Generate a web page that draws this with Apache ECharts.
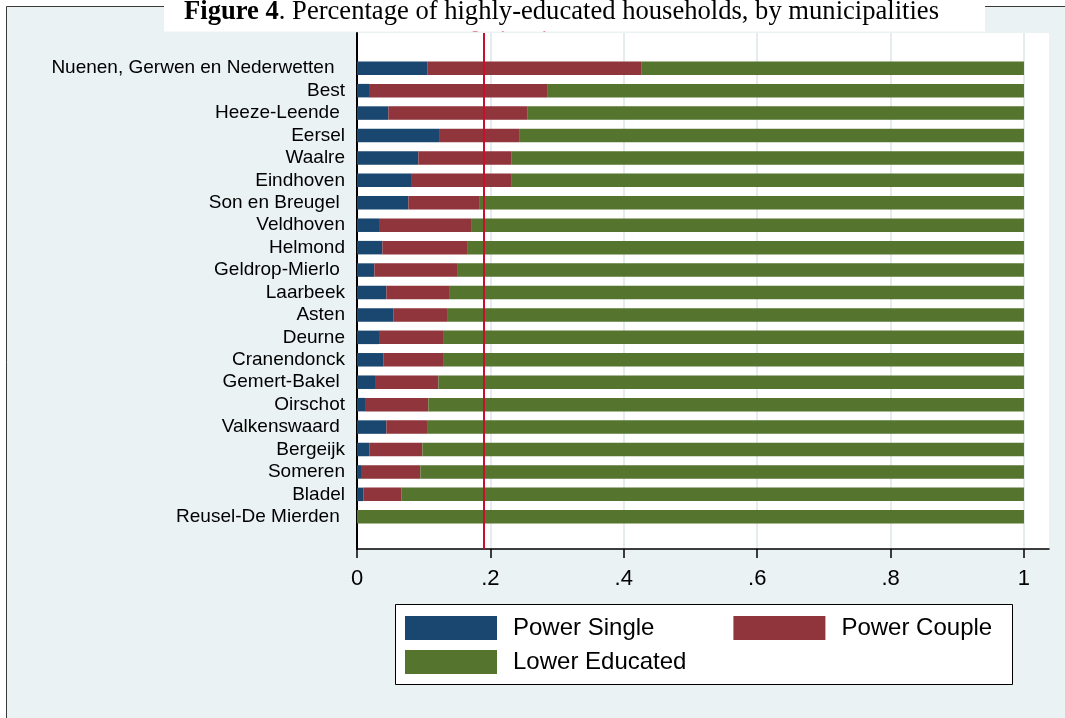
<!DOCTYPE html>
<html>
<head>
<meta charset="utf-8">
<script src="https://cdn.jsdelivr.net/npm/echarts@6/dist/echarts.min.js"></script>
<style>
  html, body { margin: 0; padding: 0; background: #ffffff; }
  #chart { width: 1065px; height: 718px; }
</style>
</head>
<body>
<div id="chart"></div>
<script>
// Municipalities, sorted by share of highly-educated households (top to bottom)
const municipalities = [
  'Nuenen, Gerwen en Nederwetten  ', 'Best', 'Heeze-Leende ', 'Eersel', 'Waalre',
  'Eindhoven', 'Son en Breugel ', 'Veldhoven', 'Helmond', 'Geldrop-Mierlo ',
  'Laarbeek', 'Asten', 'Deurne', 'Cranendonck', 'Gemert-Bakel ',
  'Oirschot', 'Valkenswaard ', 'Bergeijk', 'Someren', 'Bladel',
  'Reusel-De Mierden '
];

// Household shares (fractions of 1)
const powerSingle = [
  0.106, 0.018, 0.047, 0.123, 0.092, 0.081, 0.077, 0.033, 0.038, 0.026,
  0.044, 0.055, 0.033, 0.040, 0.027, 0.012, 0.044, 0.019, 0.006, 0.010, 0
];
const powerCouple = [
  0.320, 0.267, 0.209, 0.120, 0.140, 0.150, 0.106, 0.138, 0.127, 0.124,
  0.094, 0.080, 0.096, 0.089, 0.095, 0.095, 0.061, 0.079, 0.089, 0.057, 0
];
const lowerEducated = [
  0.574, 0.715, 0.744, 0.757, 0.768, 0.769, 0.817, 0.829, 0.835, 0.850,
  0.862, 0.865, 0.871, 0.871, 0.878, 0.893, 0.895, 0.902, 0.905, 0.933, 1
];

// Regional average share of highly-educated households
const averageShare = 0.192;
const averageLabel = 'Average (0.19)';

// X axis ticks and their labels
const xTicks = [0, 0.2, 0.4, 0.6, 0.8, 1];
const xTickLabels = ['0', '.2', '.4', '.6', '.8', '1'];

const seriesNames = ['Power Single', 'Power Couple', 'Lower Educated'];
const seriesColors = ['#1A476F', '#90353B', '#55752F'];

const SANS = '"Liberation Sans", Arial, Helvetica, sans-serif';
const SERIF = '"Liberation Serif", "Times New Roman", serif';

const chart = echarts.init(document.getElementById('chart'), null, { renderer: 'canvas' });

const plotLeft = 357, plotTop = 33, plotWidth = 692, plotBottom = 549;
const barsTop = 57, barsHeight = 471;
const xMax = 1.0375;

const legendText = {
  fontSize: 24, color: '#000', fontFamily: SANS, padding: [0, 0, 0, 11]
};

const option = {
  backgroundColor: '#ffffff',
  animation: false,
  graphic: [
    { // outer frame with light background
      type: 'rect', z: -10, silent: true,
      shape: { x: 6.5, y: 6.5, width: 1070, height: 730 },
      style: { fill: '#EAF2F3', stroke: '#3a3a3a', lineWidth: 1 }
    },
    { // legend box
      type: 'rect', z: 3, silent: true,
      shape: { x: 395.5, y: 604.5, width: 617, height: 80 },
      style: { fill: '#ffffff', stroke: '#000000', lineWidth: 1 }
    },
    { // title box
      type: 'rect', z: 20, silent: true,
      shape: { x: 164, y: 0, width: 821, height: 31.5 },
      style: { fill: '#ffffff' }
    },
    {
      type: 'text', z: 21, silent: true,
      x: 184, y: -1,
      style: {
        text: '{b|Figure 4}. Percentage of highly-educated households, by municipalities',
        font: '26.6px ' + SERIF,
        fill: '#000',
        rich: { b: { fontWeight: 'bold', fontSize: 26.6, fontFamily: SERIF } }
      }
    }
  ],
  legend: [
    {
      data: [seriesNames[0], seriesNames[1]],
      left: 405, top: 616, padding: 0,
      itemWidth: 92, itemHeight: 24, itemGap: 79,
      icon: 'rect', selectedMode: false,
      textStyle: legendText
    },
    {
      data: [seriesNames[2]],
      left: 405, top: 650, padding: 0,
      itemWidth: 92, itemHeight: 24,
      icon: 'rect', selectedMode: false,
      textStyle: legendText
    }
  ],
  grid: [
    { // full plot region: value axis, gridlines, average line
      left: plotLeft, top: plotTop, width: plotWidth, height: plotBottom - plotTop,
      show: true, backgroundColor: '#ffffff', borderWidth: 0
    },
    { // bars
      left: plotLeft, top: barsTop, width: plotWidth, height: barsHeight
    }
  ],
  xAxis: [
    {
      gridIndex: 0, type: 'value', min: 0, max: xMax, interval: 0.2,
      axisLine: { show: true, onZero: false, lineStyle: { color: '#000', width: 1.5 } },
      axisTick: { show: true, length: 9, customValues: xTicks, lineStyle: { color: '#000', width: 1.5 } },
      axisLabel: {
        show: true, customValues: xTicks, margin: 19,
        fontSize: 22, color: '#000', fontFamily: SANS,
        formatter: v => { const i = xTicks.indexOf(v); return i >= 0 ? xTickLabels[i] : ''; }
      },
      splitLine: { show: true, lineStyle: { color: '#E4ECEE', width: 2 } }
    },
    {
      gridIndex: 1, type: 'value', min: 0, max: xMax, interval: 0.2,
      show: false
    }
  ],
  yAxis: [
    {
      gridIndex: 0, type: 'value', min: 0, max: 1,
      axisLine: { show: true, lineStyle: { color: '#000', width: 2 } },
      axisTick: { show: false }, axisLabel: { show: false }, splitLine: { show: false }
    },
    {
      gridIndex: 1, type: 'category', data: municipalities, inverse: true,
      axisLine: { show: false }, axisTick: { show: false },
      axisLabel: { margin: 12, fontSize: 19, color: '#000', fontFamily: SANS, interval: 0 },
      splitLine: { show: false }
    }
  ],
  series: [
    {
      name: seriesNames[0], type: 'bar', stack: 'share', xAxisIndex: 1, yAxisIndex: 1,
      data: powerSingle, barWidth: 13.5, itemStyle: { color: seriesColors[0] }
    },
    {
      name: seriesNames[1], type: 'bar', stack: 'share', xAxisIndex: 1, yAxisIndex: 1,
      data: powerCouple, barWidth: 13.5, itemStyle: { color: seriesColors[1] }
    },
    {
      name: seriesNames[2], type: 'bar', stack: 'share', xAxisIndex: 1, yAxisIndex: 1,
      data: lowerEducated, barWidth: 13.5, itemStyle: { color: seriesColors[2] }
    },
    { // average reference line across the full plot height
      name: 'average', type: 'line', xAxisIndex: 0, yAxisIndex: 0, data: [],
      z: 5,
      markLine: {
        silent: true, symbol: 'none', animation: false,
        lineStyle: { color: '#C8102E', width: 2, type: 'solid' },
        label: {
          show: true, position: 'end', distance: 1,
          formatter: averageLabel, color: '#D0021B', fontSize: 20, fontFamily: SANS
        },
        data: [{ xAxis: averageShare }]
      }
    }
  ]
};

chart.setOption(option);
</script>
</body>
</html>
